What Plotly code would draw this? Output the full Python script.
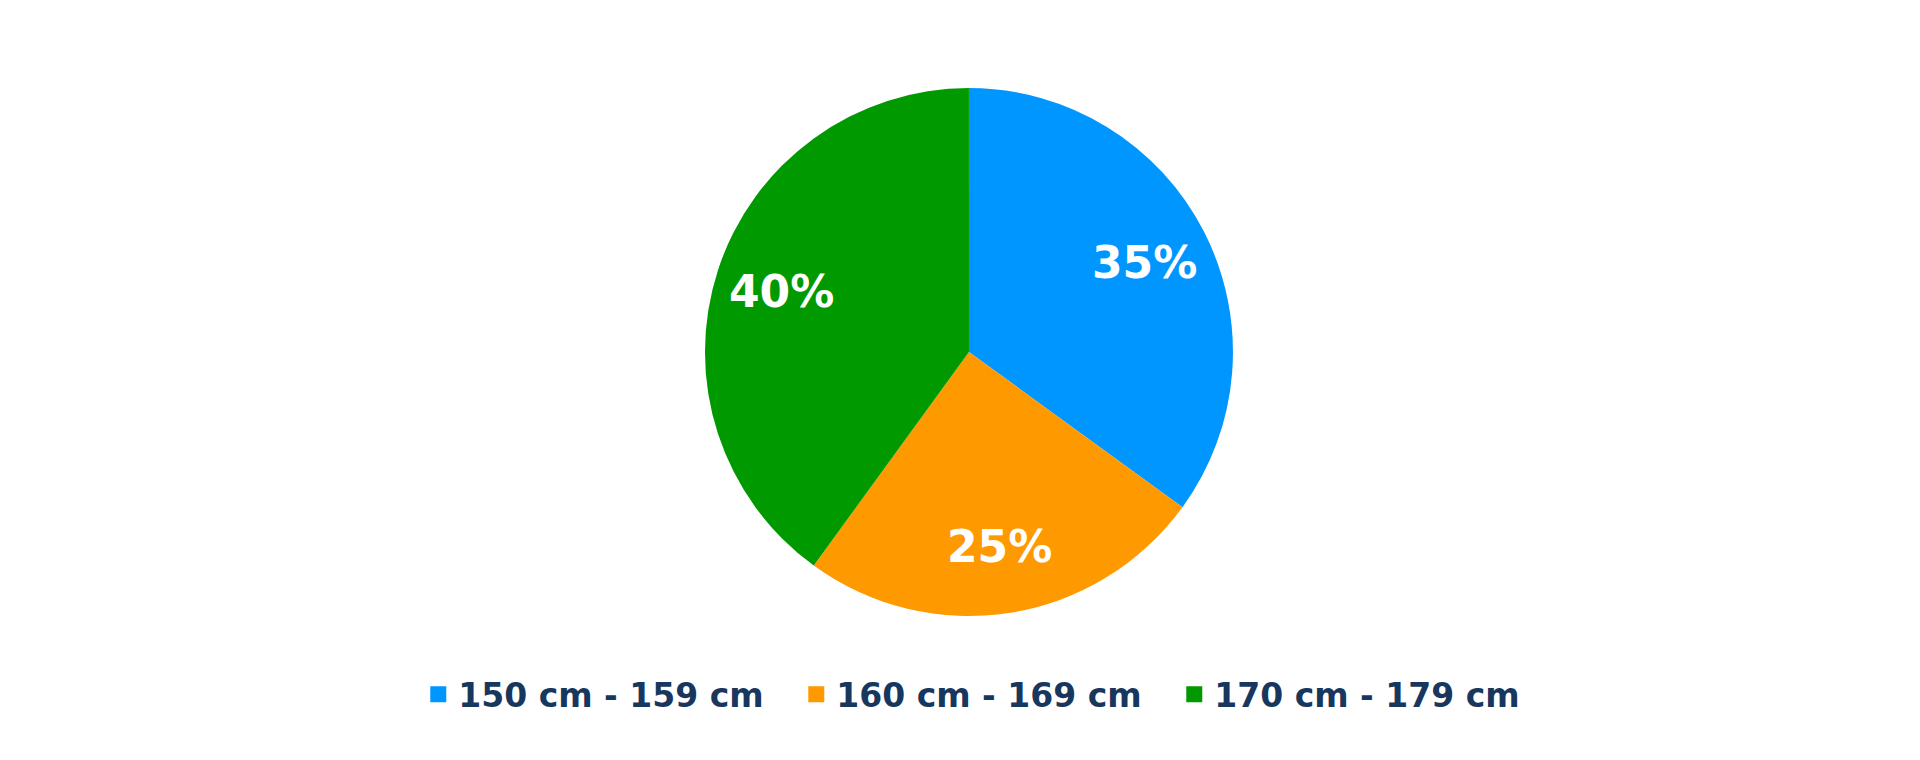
import numpy as np
import plotly.graph_objects as go

# data
labels = ['150 cm - 159 cm', '160 cm - 169 cm', '170 cm - 179 cm']
shares = [35, 25, 40]
colors = ['#0096FF', '#FF9900', '#009900']

W, H = 1920, 760
#pie placement (paper coords) and size in px
cx, cy = 0.5005, 0.5474
r_px = 264
dom_x = [cx - 0.3, cx + 0.3]
dom_y = [cy - r_px / H, cy + r_px / H]

fig = go.Figure()
fig.add_trace(go.Pie(
    labels=labels,
    values=shares,
    sort=False,
    direction='clockwise',
    rotation=0,
    marker=dict(colors=colors, line=dict(width=0)),
    textinfo='none',
    domain=dict(x=dom_x, y=dom_y),
    showlegend=False,
    hoverinfo='label+percent',
))

#percent labels, placed along the mid angle of each slice
total = float(sum(shares))
cum = 0.0
for s in shares:
    mid = np.deg2rad((cum + s / 2) / total * 360)
    cum += s
    fig.add_annotation(
        x=cx + 0.745 * r_px * np.sin(mid) / W,
        y=cy + 0.745 * r_px * np.cos(mid) / H,
        xref='paper', yref='paper', showarrow=False,
        xanchor='center', yanchor='middle',
        text='{:.0f}%'.format(s / total * 100),
        font=dict(family='DejaVu Sans', size=44, color='white', weight='bold'),
    )

#legend entries with bigger squares than the pie legend gives
for name, c in zip(labels, colors):
    fig.add_trace(go.Scatter(
        x=[None], y=[None], mode='markers', name=name,
        marker=dict(symbol='square', size=19, color=c),
    ))

fig.update_layout(
    width=W, height=H,
    paper_bgcolor='white', plot_bgcolor='white',
    margin=dict(l=0, r=0, t=0, b=0),
    xaxis=dict(visible=False), yaxis=dict(visible=False),
    showlegend=True,
    legend=dict(
        orientation='h', x=0.509, xanchor='center', y=0.097, yanchor='middle',
        font=dict(family='DejaVu Sans', size=33, color='#17375E', weight='bold'),
        entrywidth=333, itemwidth=30,
        itemclick=False, itemdoubleclick=False,
        traceorder='normal',
    ),
)

fig.write_html("out.html")
